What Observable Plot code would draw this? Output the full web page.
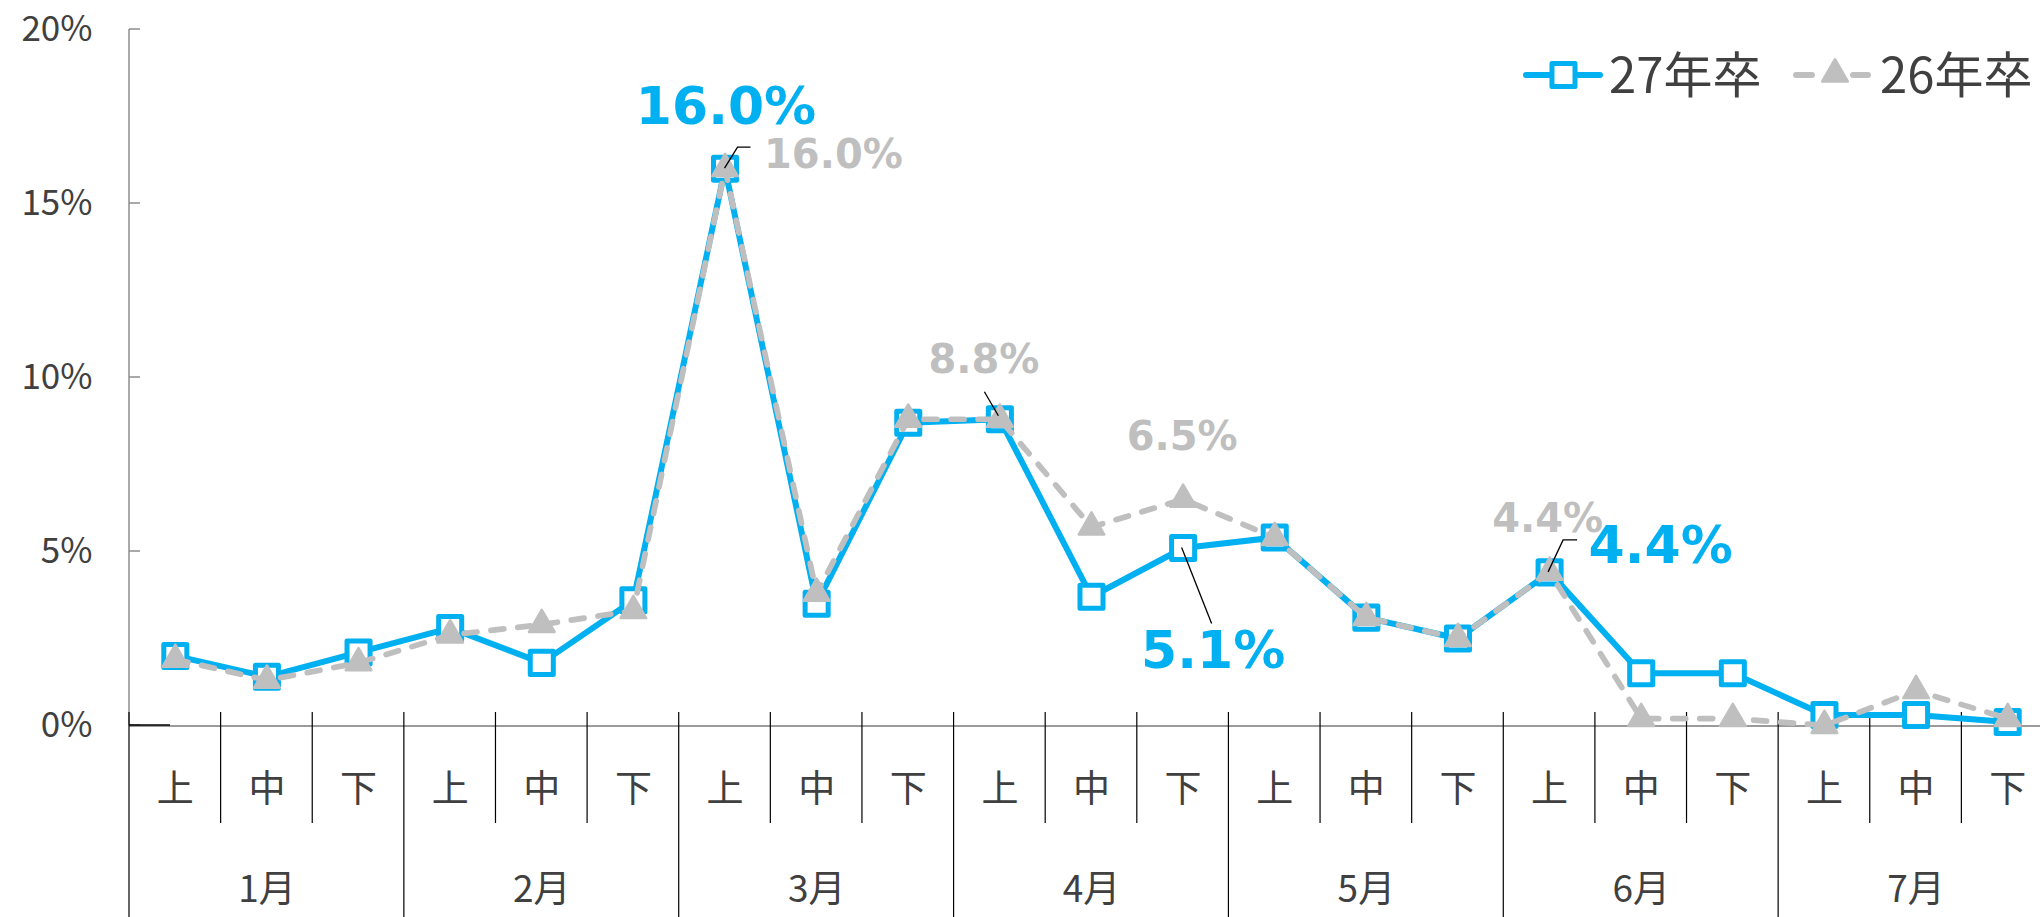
<!DOCTYPE html>
<html>
<head>
<meta charset="utf-8">
<script src="https://cdn.jsdelivr.net/npm/d3@7"></script>
<script src="https://cdn.jsdelivr.net/npm/@observablehq/plot@0.6"></script>
<style>
html, body { margin: 0; padding: 0; background: #fff; overflow: hidden; }
#chart svg { display: block; }
</style>
</head>
<body>
<div id="chart"></div>
<script>
// ---- data ----
const months = ["1月", "2月", "3月", "4月", "5月", "6月", "7月"];
const periods = ["上", "中", "下"];
const seriesNames = ["27年卒", "26年卒"];
const rate27 = [2.0, 1.4, 2.1, 2.8, 1.8, 3.6, 16.0, 3.5, 8.7, 8.8, 3.7, 5.1, 5.4, 3.1, 2.5, 4.4, 1.5, 1.5, 0.3, 0.3, 0.1];
const rate26 = [1.9, 1.3, 1.8, 2.6, 2.9, 3.3, 16.0, 3.8, 8.8, 8.8, 5.7, 6.5, 5.4, 3.1, 2.5, 4.4, 0.2, 0.2, 0.0, 1.0, 0.2];
const yTicks = [0, 5, 10, 15, 20];

// ---- styles ----
const BLUE = "#00B0F0", GREY = "#BFBFBF", TEXT = "#404040";
const JP = "'Noto Sans CJK JP', 'Noto Sans', sans-serif";
const NUM = "'DejaVu Sans', Verdana, sans-serif";

const slots = months.flatMap((m, mi) => periods.map((p, pi) => ({i: mi * 3 + pi, month: m, period: p})));
const monthMid = months.map((m, mi) => ({i: mi * 3 + 1, month: m}));
const d27 = rate27.map((v, i) => ({i, v}));
const d26 = rate26.map((v, i) => ({i, v}));
const fmt = d => d.v.toFixed(1) + "%";

function label(data, idx, color, size, anchor, dx, dy) {
  return Plot.text(data.filter(d => d.i === idx), {
    x: "i", y: "v", text: fmt, fill: color, fontSize: size, fontWeight: "bold",
    fontFamily: NUM, textAnchor: anchor, lineAnchor: "bottom", dx, dy
  });
}

// frame: y axis line, inward ticks, baseline, category separators
function frame(index, scales, values, dims) {
  const x = scales.x, y = scales.y;
  const step = x(1) - x(0);
  const left = x(0) - step / 2;
  const y0 = y(0);
  const g = d3.create("svg:g");
  g.append("line").attr("x1", left).attr("x2", left).attr("y1", y(20)).attr("y2", y0)
    .attr("stroke", "#8c8c8c").attr("stroke-width", 1.5);
  for (const t of yTicks) {
    g.append("line").attr("x1", left).attr("x2", left + 11).attr("y1", y(t)).attr("y2", y(t))
      .attr("stroke", "#8c8c8c").attr("stroke-width", 1.5);
  }
  g.append("line").attr("x1", left).attr("x2", dims.width).attr("y1", y0 + 1).attr("y2", y0 + 1)
    .attr("stroke", "#7a7a7a").attr("stroke-width", 1.5);
  g.append("line").attr("x1", left).attr("x2", left + 41).attr("y1", y0).attr("y2", y0)
    .attr("stroke", "#000").attr("stroke-width", 1.5);
  for (let k = 0; k <= slots.length; k++) {
    const xx = left + k * step;
    const isMonth = k % 3 === 0;
    g.append("line").attr("x1", xx).attr("x2", xx).attr("y1", y0 - 13)
      .attr("y2", isMonth ? dims.height : y0 + 98)
      .attr("stroke", "#000").attr("stroke-width", 1.2);
  }
  return g.node();
}

// leader lines from data points to labels
function leaders(index, scales) {
  const x = scales.x, y = scales.y;
  const g = d3.create("svg:g").attr("fill", "none").attr("stroke", "#000").attr("stroke-width", 1.3);
  const specs = [
    {i: 6, v: rate26[6], pts: [[0, 0], [13, -21], [26, -21]]},
    {i: 9, v: rate26[9], pts: [[-15, -27], [-1, -3]]},
    {i: 11, v: rate27[11], pts: [[-1, 0], [29, 76]]},
    {i: 15, v: rate27[15], pts: [[-1, 0], [14, -32], [28, -32]]}
  ];
  for (const s of specs) {
    const px = x(s.i), py = y(s.v);
    g.append("path").attr("d", "M" + s.pts.map(([a, b]) => `${px + a},${py + b}`).join("L"));
  }
  return g.node();
}

// legend
function legend(index, scales, values, dims) {
  const g = d3.create("svg:g");
  const ly = 75;
  g.append("line").attr("x1", 1526).attr("x2", 1600).attr("y1", ly).attr("y2", ly)
    .attr("stroke", BLUE).attr("stroke-width", 6).attr("stroke-linecap", "round");
  g.append("path").attr("d", d3.symbol(d3.symbolSquare, Math.PI * 13 * 13)())
    .attr("transform", `translate(1563.5,${ly})`).attr("fill", "#fff").attr("stroke", BLUE)
    .attr("stroke-width", 5).attr("stroke-linejoin", "round");
  g.append("text").attr("x", 1609).attr("y", 93).attr("font-size", 49).attr("fill", TEXT)
    .attr("text-anchor", "start").attr("font-family", JP).text(seriesNames[0]);
  g.append("line").attr("x1", 1796).attr("x2", 1812).attr("y1", ly).attr("y2", ly)
    .attr("stroke", GREY).attr("stroke-width", 6).attr("stroke-linecap", "round");
  g.append("line").attr("x1", 1853).attr("x2", 1868).attr("y1", ly).attr("y2", ly)
    .attr("stroke", GREY).attr("stroke-width", 6).attr("stroke-linecap", "round");
  g.append("path").attr("d", d3.symbol(d3.symbolTriangle, Math.PI * 9.5 * 9.5)())
    .attr("transform", `translate(1835,${ly - 1})`).attr("fill", GREY).attr("stroke", GREY)
    .attr("stroke-width", 2.5).attr("stroke-linejoin", "round");
  g.append("text").attr("x", 1880).attr("y", 93).attr("font-size", 49).attr("fill", TEXT)
    .attr("text-anchor", "start").attr("font-family", JP).text(seriesNames[1]);
  return g.node();
}

const chart = Plot.plot({
  width: 2040,
  height: 917,
  marginLeft: 129,
  marginRight: 0,
  marginTop: 29,
  marginBottom: 192,
  x: {type: "point", domain: d3.range(slots.length), range: [129, 2053], padding: 0.5, align: 0.5, round: false, axis: null},
  y: {domain: [0, 20], axis: null},
  style: {fontFamily: JP, color: TEXT, background: "#fff", overflow: "hidden"},
  marks: [
    frame,
    Plot.axisY(yTicks, {tickFormat: d => d + "%", tickSize: 0, tickPadding: 37, fontSize: 35, fontFamily: JP, label: null}),
    Plot.text(slots, {x: "i", text: "period", frameAnchor: "bottom", dy: 76, fontSize: 37, fill: TEXT, fontFamily: JP}),
    Plot.text(monthMid, {x: "i", text: "month", frameAnchor: "bottom", dy: 176, fontSize: 37, fill: TEXT, fontFamily: JP}),
    Plot.line(d27, {x: "i", y: "v", stroke: BLUE, strokeWidth: 6, strokeLinejoin: "round"}),
    Plot.dot(d27, {x: "i", y: "v", symbol: "square", r: 13, fill: "#fff", stroke: BLUE, strokeWidth: 5, strokeLinejoin: "round"}),
    Plot.line(d26, {x: "i", y: "v", stroke: GREY, strokeWidth: 5.7, strokeDasharray: "13,14", strokeLinecap: "round", strokeLinejoin: "round"}),
    Plot.dot(d26, {x: "i", y: "v", symbol: "triangle", r: 9.5, fill: GREY, stroke: GREY, strokeWidth: 2.5, strokeLinejoin: "round"}),
    leaders,
    label(d27, 6, BLUE, 52, "middle", 1, -45),
    label(d26, 6, GREY, 40, "start", 39, -1),
    label(d26, 9, GREY, 40, "middle", -16, -46),
    label(d26, 11, GREY, 40, "middle", -1, -49),
    label(d27, 11, BLUE, 52, "middle", 30, 120),
    label(d26, 15, GREY, 40, "middle", -2, -40),
    label(d27, 15, BLUE, 52, "start", 39, -9),
    legend
  ]
});
document.getElementById("chart").appendChild(chart);
</script>
</body>
</html>
